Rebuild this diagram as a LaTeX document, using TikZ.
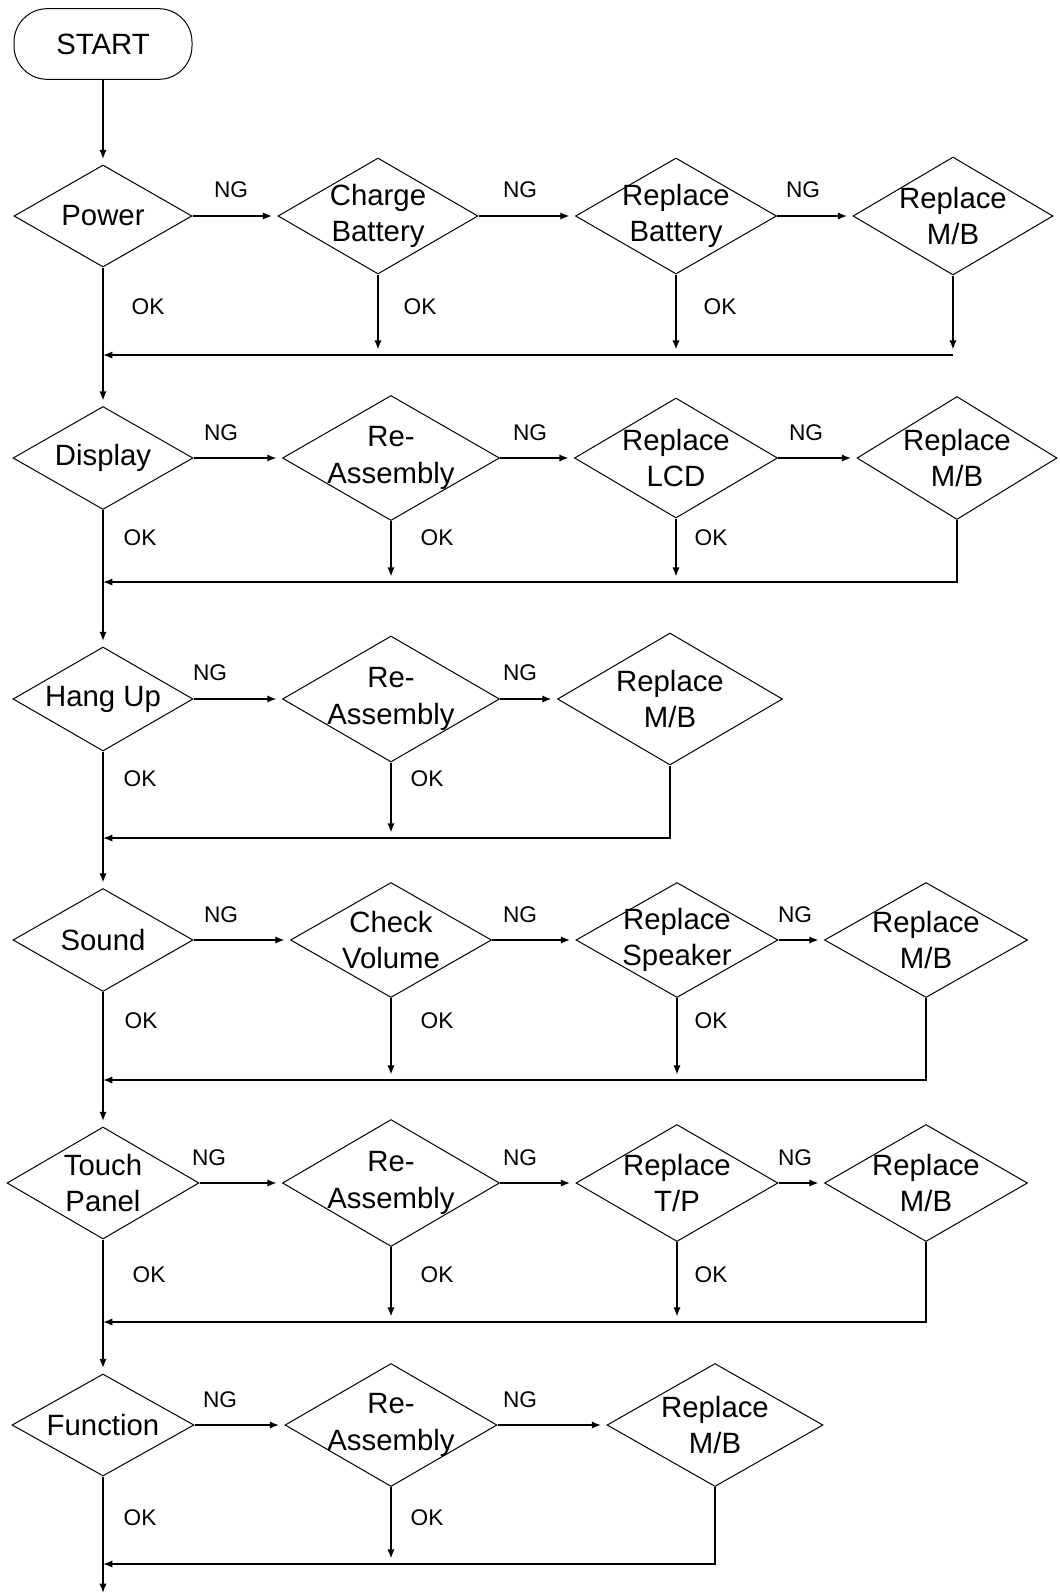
\documentclass[tikz,border=0pt]{standalone}
\usepackage{fontspec}
\setmainfont{Liberation Sans}
\usetikzlibrary{shapes.geometric,arrows.meta}

\begin{document}
\begin{tikzpicture}[x=0.75pt,y=-0.75pt,
    dia/.style 2 args={diamond, draw, line width=0.75pt, inner sep=0pt,
      minimum width=#1*0.75pt, minimum height=#2*0.75pt},
    txt/.style={align=center, inner sep=0pt, font=\fontsize{22}{27.5}\selectfont},
    tag/.style={inner sep=0pt, font=\fontsize{17}{20}\selectfont},
    con/.style={line width=1.3pt, -{Latex[length=7pt,width=5.5pt]}},
    gap/.style={shorten >=4pt}]

\path[use as bounding box, fill=white] (0,0) rectangle (1060,1593);

% Start
\node[draw, line width=0.75pt, rounded corners=25pt, minimum width=133.5pt,
  minimum height=53pt, label={[txt]center:START}] (st) at (103,44) {};

% Row 1: Power
\node[dia={178}{102}, label={[txt]center:Power}] (pw) at (103,216) {};
\node[dia={200}{116}, label={[txt]center:Charge\\Battery}] (cb) at (378,216) {};
\node[dia={201}{116}, label={[txt]center:Replace\\Battery}] (rb) at (676,216) {};
\node[dia={200}{118}, label={[txt]center:Replace\\M/B}] (m1) at (953,216) {};
\coordinate (r1) at (103,355);
\node[tag] (ng1a) at (231,190) {NG};
\node[tag] (ng1b) at (520,190) {NG};
\node[tag] (ng1c) at (803,190) {NG};
\node[tag] (ok1a) at (148,307) {OK};
\node[tag] (ok1b) at (420,307) {OK};
\node[tag] (ok1c) at (720,307) {OK};

\draw[con,gap] (st) -- (pw);
\draw[con,gap] (pw) -- (cb);
\draw[con,gap] (cb) -- (rb);
\draw[con,gap] (rb) -- (m1);
\draw[con,gap] (cb) -- (cb |- r1);
\draw[con,gap] (rb) -- (rb |- r1);
\draw[con,gap] (m1) -- (m1 |- r1);
\draw[con] (m1 |- r1) -- (r1);

% Row 2: Display
\node[dia={180}{103}, label={[txt]center:Display}] (dp) at (103,458) {};
\node[dia={217}{125}, label={[txt]center:Re-\\Assembly}] (ra2) at (391,458) {};
\node[dia={203}{120}, label={[txt]center:Replace\\LCD}] (lcd) at (676,458) {};
\node[dia={200}{123}, label={[txt]center:Replace\\M/B}] (m2) at (957,458) {};
\coordinate (r2) at (103,582);
\node[tag] (ng2a) at (221,433) {NG};
\node[tag] (ng2b) at (530,433) {NG};
\node[tag] (ng2c) at (806,433) {NG};
\node[tag] (ok2a) at (140,538) {OK};
\node[tag] (ok2b) at (437,538) {OK};
\node[tag] (ok2c) at (711,538) {OK};

\draw[con,gap] (pw) -- (dp);
\draw[con,gap] (dp) -- (ra2);
\draw[con,gap] (ra2) -- (lcd);
\draw[con,gap] (lcd) -- (m2);
\draw[con,gap] (ra2) -- (ra2 |- r2);
\draw[con,gap] (lcd) -- (lcd |- r2);
\draw[con] (m2) |- (r2);

% Row 3: Hang Up
\node[dia={180}{104}, label={[txt]center:Hang Up}] (hu) at (103,699) {};
\node[dia={217}{126}, label={[txt]center:Re-\\Assembly}] (ra3) at (391,699) {};
\node[dia={225}{132}, label={[txt]center:Replace\\M/B}] (m3) at (670,699) {};
\coordinate (r3) at (103,838);
\node[tag] (ng3a) at (210,673) {NG};
\node[tag] (ng3b) at (520,673) {NG};
\node[tag] (ok3a) at (140,779) {OK};
\node[tag] (ok3b) at (427,779) {OK};

\draw[con,gap] (dp) -- (hu);
\draw[con,gap] (hu) -- (ra3);
\draw[con,gap] (ra3) -- (m3);
\draw[con,gap] (ra3) -- (ra3 |- r3);
\draw[con] (m3) |- (r3);

% Row 4: Sound
\node[dia={180}{103}, label={[txt]center:Sound}] (sd) at (103,940) {};
\node[dia={201}{115}, label={[txt]center:Check\\Volume}] (cv) at (391,940) {};
\node[dia={202}{115}, label={[txt]center:Replace\\Speaker}] (spk) at (677,940) {};
\node[dia={203}{115}, label={[txt]center:Replace\\M/B}] (m4) at (926,940) {};
\coordinate (r4) at (103,1080);
\node[tag] (ng4a) at (221,915) {NG};
\node[tag] (ng4b) at (520,915) {NG};
\node[tag] (ng4c) at (795,915) {NG};
\node[tag] (ok4a) at (141,1021) {OK};
\node[tag] (ok4b) at (437,1021) {OK};
\node[tag] (ok4c) at (711,1021) {OK};

\draw[con,gap] (hu) -- (sd);
\draw[con,gap] (sd) -- (cv);
\draw[con,gap] (cv) -- (spk);
\draw[con,gap] (spk) -- (m4);
\draw[con,gap] (cv) -- (cv |- r4);
\draw[con,gap] (spk) -- (spk |- r4);
\draw[con] (m4) |- (r4);

% Row 5: Touch Panel
\node[dia={192}{112}, label={[txt]center:Touch\\Panel}] (tp) at (103,1183) {};
\node[dia={217}{127}, label={[txt]center:Re-\\Assembly}] (ra5) at (391,1183) {};
\node[dia={202}{117}, label={[txt]center:Replace\\T/P}] (tpr) at (677,1183) {};
\node[dia={203}{117}, label={[txt]center:Replace\\M/B}] (m5) at (926,1183) {};
\coordinate (r5) at (103,1322);
\node[tag] (ng5a) at (209,1158) {NG};
\node[tag] (ng5b) at (520,1158) {NG};
\node[tag] (ng5c) at (795,1158) {NG};
\node[tag] (ok5a) at (149,1275) {OK};
\node[tag] (ok5b) at (437,1275) {OK};
\node[tag] (ok5c) at (711,1275) {OK};

\draw[con,gap] (sd) -- (tp);
\draw[con,gap] (tp) -- (ra5);
\draw[con,gap] (ra5) -- (tpr);
\draw[con,gap] (tpr) -- (m5);
\draw[con,gap] (ra5) -- (ra5 |- r5);
\draw[con,gap] (tpr) -- (tpr |- r5);
\draw[con] (m5) |- (r5);

% Row 6: Function
\node[dia={182}{102}, label={[txt]center:Function}] (fn) at (103,1425) {};
\node[dia={212}{123}, label={[txt]center:Re-\\Assembly}] (ra6) at (391,1425) {};
\node[dia={216}{123}, label={[txt]center:Replace\\M/B}] (m6) at (715,1425) {};
\coordinate (r6) at (103,1564);
\coordinate (fin) at (103,1593);
\node[tag] (ng6a) at (220,1400) {NG};
\node[tag] (ng6b) at (520,1400) {NG};
\node[tag] (ok6a) at (140,1518) {OK};
\node[tag] (ok6b) at (427,1518) {OK};

\draw[con,gap] (tp) -- (fn);
\draw[con,gap] (fn) -- (ra6);
\draw[con,gap] (ra6) -- (m6);
\draw[con,gap] (ra6) -- (ra6 |- r6);
\draw[con] (m6) |- (r6);
\draw[con] (fn) -- (fin);

\end{tikzpicture}
\end{document}
